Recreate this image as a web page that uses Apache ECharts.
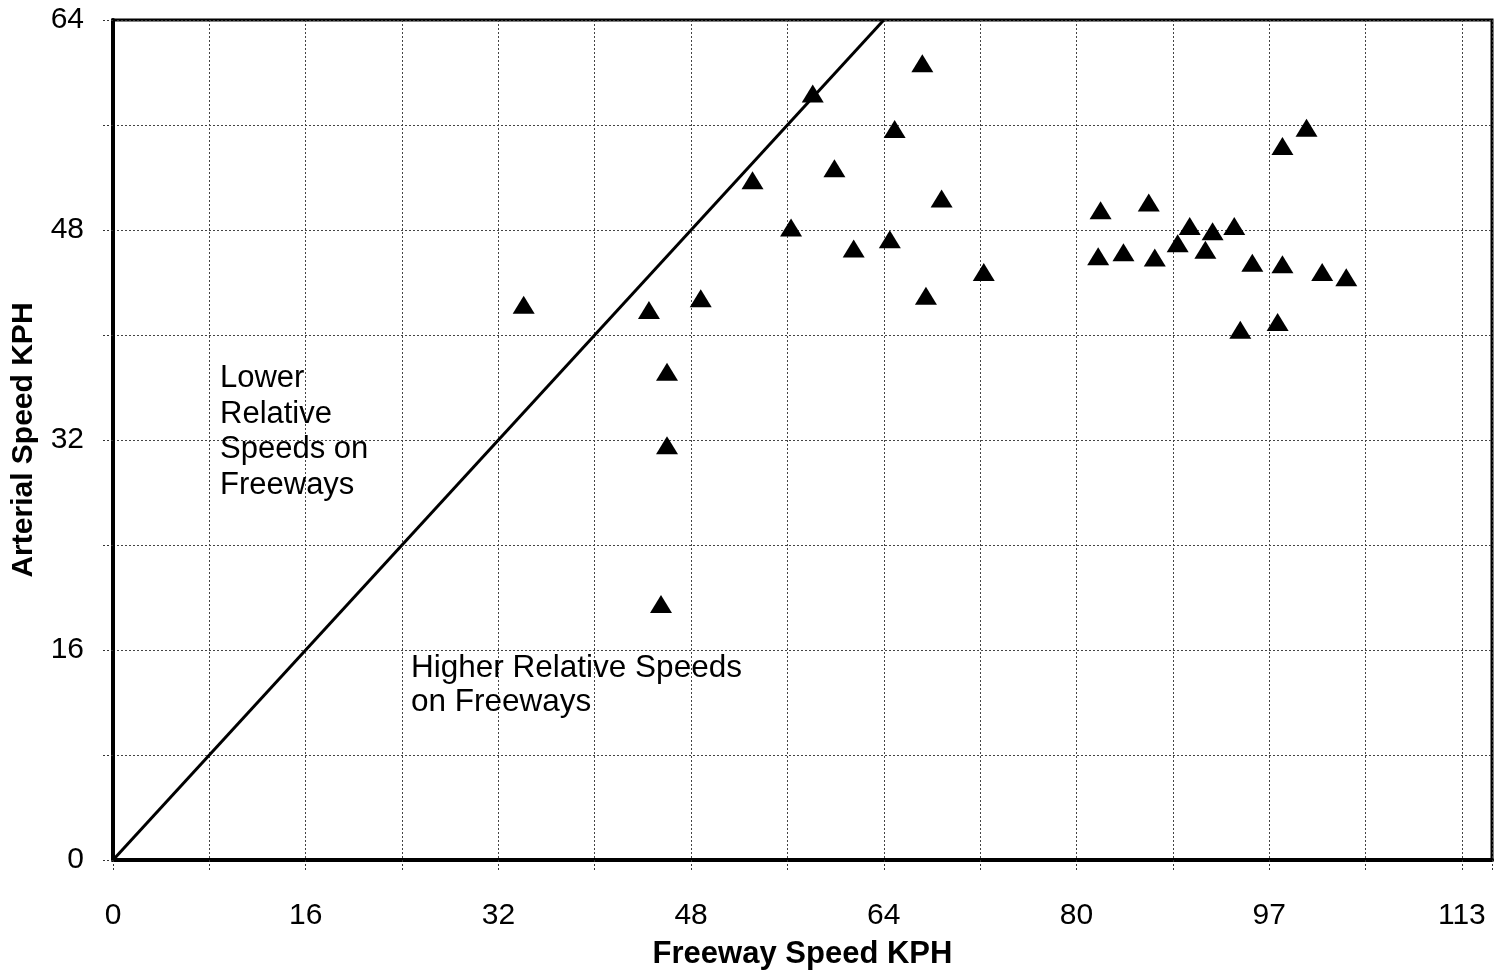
<!DOCTYPE html>
<html>
<head>
<meta charset="utf-8">
<script src="https://cdn.jsdelivr.net/npm/echarts@6/dist/echarts.min.js"></script>
<style>
html,body{margin:0;padding:0;background:#fff;}
#chart{width:1495px;height:978px;}
</style>
</head>
<body>
<div id="chart"></div>
<script>
// Freeway speed (x) and arterial speed (y) for each observation
var freewaySpeed = [34.1, 44.5, 48.8, 46.0, 46.0, 45.5, 53.1, 56.3, 58.1, 59.9, 61.5, 64.5, 64.9, 67.2, 67.5, 68.8, 72.3,
  81.8, 82.0, 83.9, 86.0, 86.5, 88.4, 89.4, 90.7, 91.3, 93.1, 93.6, 94.6, 96.7, 97.1, 97.1, 99.1, 100.4, 102.4];
var arterialSpeed = [42.3, 41.9, 42.8, 37.2, 31.6, 19.5, 51.8, 48.2, 58.4, 52.7, 46.6, 47.3, 55.7, 60.7, 43.0, 50.4, 44.8,
  46.0, 49.5, 46.3, 50.1, 45.9, 47.0, 48.3, 46.5, 47.9, 48.3, 40.4, 45.5, 41.0, 54.4, 45.4, 55.8, 44.8, 44.4];
// Equal-speed reference line
var equalLineX = [0, 64];
var equalLineY = [0, 64];
// Tick labels
var xTickLabels = ['0', '16', '32', '48', '64', '80', '97', '113'];
var yTickLabels = ['0', '16', '32', '48', '64'];
var xAxisTitle = 'Freeway Speed KPH';
var yAxisTitle = 'Arterial Speed KPH';
var noteLower = 'Lower\nRelative\nSpeeds on\nFreeways';
var noteHigher = 'Higher Relative Speeds\non Freeways';

var FONT = '"Liberation Sans", Arial, sans-serif';
var points = freewaySpeed.map(function (x, i) { return [x, arterialSpeed[i]]; });
var linePts = equalLineX.map(function (x, i) { return [x, equalLineY[i]]; });

var chart = echarts.init(document.getElementById('chart'), null, {renderer: 'canvas'});
chart.setOption({
  backgroundColor: '#ffffff',
  animation: false,
  grid: {left: 113, right: 3, top: 20, bottom: 118, show: true, borderColor: '#000', borderWidth: 3, backgroundColor: 'transparent'},
  xAxis: {
    type: 'value', min: 0, max: 114.5, interval: 8,
    name: xAxisTitle, nameLocation: 'middle', nameGap: 79,
    nameTextStyle: {fontFamily: FONT, fontSize: 31, fontWeight: 'bold', color: '#000'},
    axisLine: {show: true, onZero: false, lineStyle: {color: '#000', width: 4}},
    axisTick: {show: true, length: 10, lineStyle: {color: '#333', type: [2, 2], width: 1}},
    axisLabel: {
      margin: 41, fontFamily: FONT, fontSize: 30, color: '#000',
      formatter: function (v) {
        var k = Math.round(v / 16);
        if (Math.abs(v - k * 16) < 0.01 && k < xTickLabels.length) return xTickLabels[k];
        return '';
      }
    },
    splitLine: {show: true, lineStyle: {color: '#444', type: [2, 2], width: 1}}
  },
  yAxis: {
    type: 'value', min: 0, max: 64, interval: 8,
    name: yAxisTitle, nameLocation: 'middle', nameGap: 74, nameRotate: 90,
    nameTextStyle: {fontFamily: FONT, fontSize: 30, fontWeight: 'bold', color: '#000'},
    axisLine: {show: true, lineStyle: {color: '#000', width: 4}},
    axisTick: {show: true, length: 10, lineStyle: {color: '#333', type: [2, 2], width: 1}},
    axisLabel: {
      margin: 29, fontFamily: FONT, fontSize: 30, color: '#000',
      formatter: function (v) {
        var k = Math.round(v / 16);
        if (Math.abs(v - k * 16) < 0.01 && k < yTickLabels.length) return yTickLabels[k];
        return '';
      }
    },
    splitLine: {show: true, lineStyle: {color: '#444', type: [2, 2], width: 1}}
  },
  series: [
    {
      type: 'line', data: linePts, symbol: 'none', silent: true,
      lineStyle: {color: '#000', width: 3}, z: 3
    },
    {
      type: 'scatter', data: points, symbol: 'triangle', symbolSize: [22, 18],
      itemStyle: {color: '#000', opacity: 1},
      z: 4
    }
  ],
  graphic: [
    {type: 'text', left: 220, top: 361, z: 10, silent: true,
      style: {text: noteLower, fontFamily: FONT, fontSize: 31, lineHeight: 35.5, fill: '#000'}},
    {type: 'text', left: 411, top: 651, z: 10, silent: true,
      style: {text: noteHigher, fontFamily: FONT, fontSize: 31.5, lineHeight: 34, fill: '#000'}}
  ]
});
</script>
</body>
</html>
